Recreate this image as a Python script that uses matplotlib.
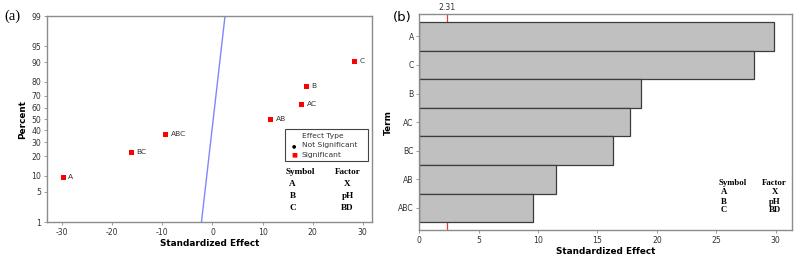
import matplotlib.pyplot as plt
from statistics import NormalDist

# values
terms = ["A", "BC", "ABC", "AB", "AC", "B", "C"]
effects = [-29.9, -16.3, -9.5, 11.5, 17.7, 18.7, 28.2]
percents = [9.5, 23.0, 36.5, 50.0, 63.5, 77.0, 90.5]

line_effect = [-2.2, 2.5]
line_pct = [1, 99]

pareto_terms = ["A", "C", "B", "AC", "BC", "AB", "ABC"]
pareto_vals = [29.9, 28.2, 18.7, 17.7, 16.3, 11.5, 9.6]
ref_value = 2.31

pct_ticks = [1, 5, 10, 20, 30, 40, 50, 60, 70, 80, 90, 95, 99]

symbols = ["A", "B", "C"]
factors = ["X", "pH", "BD"]

plt.rcParams["axes.unicode_minus"] = False
plt.rcParams["font.family"] = "DejaVu Sans"

nd = NormalDist()
def z(p):
    return nd.inv_cdf(p / 100.0)

frame_col = "#8c8c8c"
tick_col = "#333333"

fig = plt.figure(figsize=(8, 2.61), dpi=100)

# (a) normal plot of standardized effects
ax1 = fig.add_axes([0.0584, 0.1494, 0.4063, 0.789])
ax1.plot(line_effect, [z(p) for p in line_pct], color="#7f86ff", lw=1.0, zorder=2)
ax1.plot(effects, [z(p) for p in percents], "s", color="#ff0000", ms=3.6, mew=0, zorder=3)
for t, e, p in zip(terms, effects, percents):
    ax1.annotate(t, (e, z(p)), xytext=(4, 0), textcoords="offset points",
                 fontsize=5.4, va="center", color="#333333")
ax1.set_xlim(-33.1, 31.8)
ax1.set_ylim(z(1), z(99))
ax1.set_yticks([z(p) for p in pct_ticks])
ax1.set_yticklabels([str(p) for p in pct_ticks])
ax1.set_xticks([-30, -20, -10, 0, 10, 20, 30])
ax1.set_xlabel("Standardized Effect", fontsize=6.4, fontweight="bold", labelpad=2)
ax1.set_ylabel("Percent", fontsize=6.4, fontweight="bold", labelpad=3)
ax1.tick_params(labelsize=5.6, length=2.5, width=0.6, colors=frame_col, labelcolor=tick_col, pad=1.5)
for s in ax1.spines.values():
    s.set_color(frame_col)
    s.set_linewidth(1.0)

# legend box
lx0, lx1 = 285 / 800, 368 / 800
ly0, ly1 = 1 - 161 / 261, 1 - 129 / 261
fig.patches.append(plt.Rectangle((lx0, ly0), lx1 - lx0, ly1 - ly0, transform=fig.transFigure,
                                 fill=False, ec="#444444", lw=0.8))
fig.text(302 / 800, 1 - 136 / 261, "Effect Type", fontsize=5.4, color="#333333", va="center")
fig.text(294 / 800, 1 - 145.5 / 261, "\u25cf", fontsize=3.6, color="black", va="center", ha="center")
fig.text(302 / 800, 1 - 145.5 / 261, "Not Significant", fontsize=5.4, color="#333333", va="center")
fig.text(294 / 800, 1 - 155 / 261, "\u25a0", fontsize=4.5, color="#ff0000", va="center", ha="center")
fig.text(302 / 800, 1 - 155 / 261, "Significant", fontsize=5.4, color="#333333", va="center")

# symbol / factor table on (a)
serif = dict(family="Liberation Serif", fontweight="bold", fontsize=6.6, va="center", ha="center")
fig.text(300 / 800, 1 - 172 / 261, "Symbol", **serif)
fig.text(348 / 800, 1 - 172 / 261, "Factor", **serif)
for i, (s, f) in enumerate(zip(symbols, factors)):
    y = 1 - (184 + 12.2 * i) / 261
    fig.text(292.5 / 800, y, s, **serif)
    fig.text(347.5 / 800, y, f, **serif)

fig.text(12 / 800, 1 - 16 / 261, "(a)", family="Liberation Serif", fontsize=10.5, va="center", ha="center")

# (b) pareto chart
ax2 = fig.add_axes([0.5241, 0.1188, 0.4655, 0.8264])
ypos = list(range(len(pareto_terms)))
ax2.axvline(ref_value, color="#ff3030", lw=0.9, zorder=1)
ax2.barh(ypos, pareto_vals, height=1.0, color="#c0c0c0", edgecolor="#3c3c3c", lw=0.9, zorder=2)
ax2.set_yticks(ypos)
ax2.set_yticklabels(pareto_terms)
ax2.set_ylim(6.77, -0.77)
ax2.set_xlim(0, 31.35)
ax2.set_xticks([0, 5, 10, 15, 20, 25, 30])
ax2.set_xlabel("Standardized Effect", fontsize=6.4, fontweight="bold", labelpad=2)
ax2.set_ylabel("Term", fontsize=6.4, fontweight="bold", labelpad=4)
ax2.tick_params(labelsize=5.6, length=2.5, width=0.6, colors=frame_col, labelcolor=tick_col, pad=1.5)
for s in ax2.spines.values():
    s.set_color(frame_col)
    s.set_linewidth(1.0)
ax2.text(ref_value, 1.01, "2.31", transform=ax2.get_xaxis_transform(), fontsize=5.6,
         color="#333333", ha="center", va="bottom")

serif2 = dict(family="Liberation Serif", fontweight="bold", fontsize=6.3, va="center", ha="center")
fig.text(733 / 800, 1 - 183 / 261, "Symbol", **serif2)
fig.text(774 / 800, 1 - 183 / 261, "Factor", **serif2)
for i, (s, f) in enumerate(zip(symbols, factors)):
    y = 1 - (192.5 + 9 * i) / 261
    fig.text(724 / 800, y, s, **serif2)
    fig.text(775 / 800, y, f, **serif2)

fig.text(402 / 800, 1 - 18 / 261, "(b)", fontsize=9.5, va="center", ha="center")

fig.savefig("out.png", dpi=100)
